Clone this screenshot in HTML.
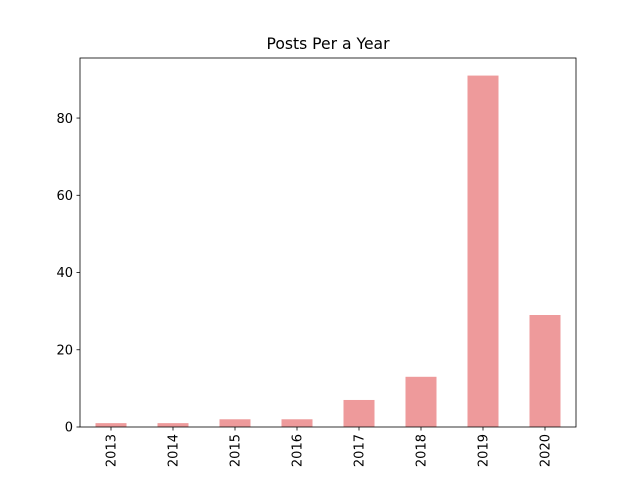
<!DOCTYPE html>
<html><head><meta charset="utf-8"><style>
body{margin:0;background:#fff;font-family:"Liberation Sans","DejaVu Sans",sans-serif}
</style></head><body>
<svg id="chart" width="640" height="480" font-family="DejaVu Sans, Liberation Sans, sans-serif"></svg>
<script>
const categories=["2013","2014","2015","2016","2017","2018","2019","2020"];
const values=[1,1,2,2,7,13,91,29];
const yTicks=[0,20,40,60,80];
const title="Posts Per a Year";
const NS="http://www.w3.org/2000/svg";
const svg=document.getElementById('chart');
const L=80,R=576,T=58,B=427,yMax=95.55;
const x=i=>L+(i+0.5)*(R-L)/categories.length;
const y=v=>B-v/yMax*(B-T);
function mk(t,a){const e=document.createElementNS(NS,t);for(const k in a)e.setAttribute(k,a[k]);svg.appendChild(e);return e;}
const bw=(R-L)/categories.length*0.5;
values.forEach((v,i)=>{
 const r=mk('rect',{x:x(i)-bw/2,y:y(v),width:bw,height:B-y(v),fill:'#ee9a9b'});
 
 
 const tk=mk('line',{x1:x(i),x2:x(i),y1:B,y2:B+3.5,stroke:'#000','stroke-width':0.8});
 
 
 const tx=x(i)+4.5, ty=B+7;
 const lb=mk('text',{x:tx,y:ty,'font-size':13,'text-anchor':'end',transform:`rotate(-90 ${tx} ${ty})`});
 lb.textContent=categories[i];
 
 
});
yTicks.forEach(v=>{
 const tk=mk('line',{x1:L-3.5,x2:L,y1:y(v),y2:y(v),stroke:'#000','stroke-width':0.8});
 
 
 const lb=mk('text',{x:L-7,y:y(v)+4.7,'font-size':13,'text-anchor':'end'});
 lb.textContent=v;
 
 
});
const fr=mk('rect',{x:L,y:T,width:R-L,height:B-T,fill:'none',stroke:'#000','stroke-width':0.8});


const tt=mk('text',{x:(L+R)/2,y:T-9,'font-size':15.6,'text-anchor':'middle'});
tt.textContent=title;


</script>
</body></html>
